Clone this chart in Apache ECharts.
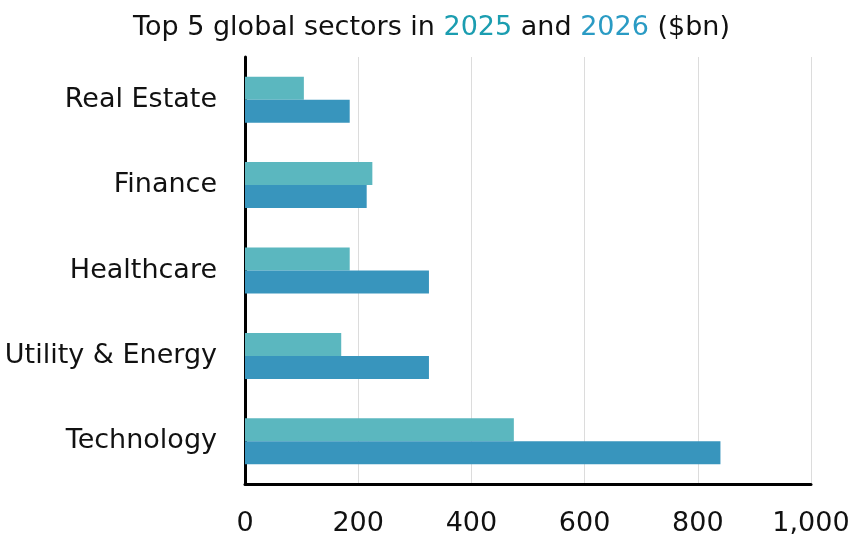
<!DOCTYPE html>
<html><head><meta charset="utf-8">
<script src="https://cdn.jsdelivr.net/npm/echarts@6/dist/echarts.min.js"></script>
<style>html,body{margin:0;padding:0;background:#fff}#c{width:863px;height:544px}</style>
</head><body><div id="c"></div>
<script>
const categories = ['Technology', 'Utility & Energy', 'Healthcare', 'Finance', 'Real Estate'];
const values2025 = [475, 170, 185, 225, 104];
const values2026 = [840, 325, 325, 215, 185];
const xTicks = [0, 200, 400, 600, 800, 1000];

const FONT = '"DejaVu Sans", sans-serif';
const chart = echarts.init(document.getElementById('c'), null, {renderer: 'canvas'});
chart.setOption({
  animation: false,
  title: {
    text: '{a|Top 5 global sectors in }{b|2025}{a| and }{c|2026}{a| ($bn)}',
    left: 'center', top: 9,
    textStyle: {
      rich: {
        a: {fontFamily: FONT, fontSize: 27, fontWeight: 'normal', color: '#111'},
        b: {fontFamily: FONT, fontSize: 27, fontWeight: 'normal', color: '#1b9db0'},
        c: {fontFamily: FONT, fontSize: 27, fontWeight: 'normal', color: '#2a9bc4'}
      }
    }
  },
  grid: {left: 245, right: 52, top: 57, bottom: 60, containLabel: false},
  xAxis: {
    type: 'value', min: xTicks[0], max: xTicks[xTicks.length - 1], interval: 200,
    axisLine: {show: true, lineStyle: {color: '#000', width: 3}},
    axisTick: {show: false},
    splitLine: {show: true, lineStyle: {color: '#dcdcdc', width: 1}},
    axisLabel: {
      fontFamily: FONT, fontSize: 27, color: '#111', margin: 26,
      formatter: v => v.toLocaleString('en-US')
    }
  },
  yAxis: {
    type: 'category', data: categories,
    axisLine: {show: true, lineStyle: {color: '#000', width: 3}},
    axisTick: {show: false},
    axisLabel: {fontFamily: FONT, fontSize: 27, color: '#111', margin: 28}
  },
  series: [
    {name: '2025', type: 'bar', data: values2025, barWidth: 23, barGap: '0%',
     itemStyle: {color: '#5bb7bf'}},
    {name: '2026', type: 'bar', data: values2026, barWidth: 23, barGap: '0%',
     itemStyle: {color: '#3895bd'}}
  ]
});
</script></body></html>
